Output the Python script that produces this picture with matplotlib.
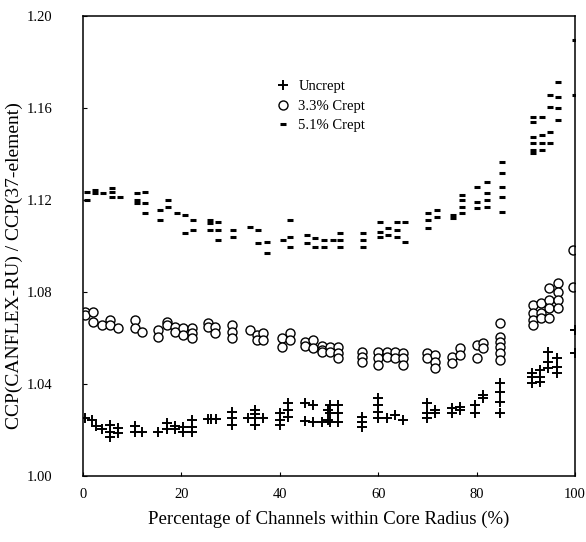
import matplotlib.pyplot as plt

plt.rcParams["font.family"] = ["Liberation Serif", "DejaVu Serif"]

# Uncrept  (x = % of channels, y = CCP ratio)
unc_x = [0.4, 1.8, 2.6, 3.9, 5.5, 5.5, 5.5, 7.1, 7.1, 10.6, 10.6, 12.0, 15.2,
         17.1, 17.1, 18.7, 18.7, 20.3, 20.3, 22.2, 22.2, 22.2,
         25.4, 26.0, 27.0, 30.3, 30.3, 30.3, 33.5, 35.0, 35.0, 35.0, 35.0, 36.6,
         40.0, 40.0, 40.0, 41.7, 41.7, 41.7, 45.1, 45.1, 46.7, 46.7, 48.6,
         49.8, 49.8, 50.2, 50.2, 50.2, 51.8, 51.8, 51.8, 56.7, 56.7, 56.7,
         60.0, 60.0, 60.0, 60.0, 61.8, 63.4, 65.0, 69.9, 69.9, 69.9, 71.5, 71.5,
         75.0, 75.0, 76.6, 76.6, 79.7, 79.7, 81.3, 81.3,
         84.8, 84.8, 84.8, 84.8, 91.3, 91.3, 91.3, 92.9, 92.9, 92.9,
         94.5, 94.5, 94.5, 96.3, 96.3, 96.3, 100.0, 100.0]
unc_y = [1.0250, 1.0243, 1.0217, 1.0204, 1.0222, 1.0191, 1.0170, 1.0209, 1.0187,
         1.0217, 1.0191, 1.0191, 1.0191, 1.0230, 1.0204, 1.0217, 1.0204,
         1.0213, 1.0191, 1.0243, 1.0213, 1.0191,
         1.0248, 1.0248, 1.0248, 1.0278, 1.0252, 1.0222, 1.0252,
         1.0287, 1.0270, 1.0252, 1.0222, 1.0252,
         1.0274, 1.0243, 1.0222, 1.0317, 1.0287, 1.0257, 1.0317, 1.0237,
         1.0309, 1.0235, 1.0235, 1.0287, 1.0245, 1.0309, 1.0274, 1.0235,
         1.0309, 1.0274, 1.0235, 1.0257, 1.0235, 1.0213,
         1.0339, 1.0309, 1.0278, 1.0252, 1.0252, 1.0265, 1.0243,
         1.0317, 1.0274, 1.0252, 1.0287, 1.0274, 1.0296, 1.0274, 1.0300, 1.0287,
         1.0309, 1.0274, 1.0352, 1.0339, 1.0404, 1.0365, 1.0322, 1.0274,
         1.0448, 1.0430, 1.0404, 1.0461, 1.0430, 1.0409,
         1.0539, 1.0496, 1.0470, 1.0513, 1.0474, 1.0448, 1.0635, 1.0535]

# 3.3% Crept
c33_x = [0.4, 0.4, 2.0, 2.0, 3.9, 5.5, 5.5, 7.1, 10.6, 10.6, 12.0, 15.2, 15.2,
         17.1, 17.1, 18.7, 18.7, 20.3, 20.3, 22.2, 22.2, 22.2, 25.4, 25.4,
         26.8, 26.8, 30.3, 30.3, 30.3, 33.9, 35.4, 35.4, 36.6, 36.6,
         40.4, 40.4, 42.1, 42.1, 45.1, 45.1, 46.7, 46.7, 48.6, 48.6, 48.6,
         50.2, 50.2, 51.8, 51.8, 51.8, 56.7, 56.7, 56.7, 60.0, 60.0, 60.0,
         61.8, 61.8, 63.4, 63.4, 65.0, 65.0, 65.0, 69.9, 69.9, 71.5, 71.5, 71.5,
         75.0, 75.0, 76.6, 76.6, 80.1, 80.1, 81.3, 81.3,
         84.8, 84.8, 84.8, 84.8, 84.8, 84.8,
         91.5, 91.5, 91.5, 91.5, 93.1, 93.1, 93.1, 94.7, 94.7, 94.7, 94.7,
         96.5, 96.5, 96.5, 96.5, 99.6, 99.6]
c33_y = [1.0713, 1.0700, 1.0713, 1.0670, 1.0657, 1.0678, 1.0657, 1.0643,
         1.0678, 1.0643, 1.0626, 1.0635, 1.0604, 1.0670, 1.0657, 1.0648, 1.0626,
         1.0643, 1.0613, 1.0643, 1.0622, 1.0600, 1.0665, 1.0648, 1.0648, 1.0622,
         1.0657, 1.0626, 1.0600, 1.0635, 1.0613, 1.0591, 1.0622, 1.0591,
         1.0600, 1.0561, 1.0622, 1.0591, 1.0583, 1.0565, 1.0591, 1.0557,
         1.0565, 1.0548, 1.0539, 1.0561, 1.0539, 1.0561, 1.0535, 1.0513,
         1.0539, 1.0517, 1.0496, 1.0539, 1.0513, 1.0483, 1.0539, 1.0517,
         1.0539, 1.0513, 1.0535, 1.0513, 1.0483, 1.0535, 1.0513,
         1.0526, 1.0496, 1.0470, 1.0517, 1.0491, 1.0557, 1.0526,
         1.0570, 1.0513, 1.0578, 1.0557,
         1.0665, 1.0604, 1.0583, 1.0561, 1.0535, 1.0504,
         1.0743, 1.0709, 1.0678, 1.0657, 1.0752, 1.0709, 1.0687,
         1.0817, 1.0765, 1.0730, 1.0687, 1.0839, 1.0800, 1.0765, 1.0730,
         1.0983, 1.0822]

# 5.1% Crept
c51_x = [0.8, 0.8, 2.4, 2.4, 4.1, 5.9, 5.9, 5.9, 7.5, 11.0, 11.0, 11.0,
         12.6, 12.6, 12.6, 15.7, 15.7, 17.3, 17.3, 19.1, 20.7, 20.7, 22.4, 22.4,
         25.8, 25.8, 25.8, 27.4, 27.4, 27.4, 30.5, 30.5, 33.9, 35.6, 35.6,
         37.4, 37.4, 40.7, 42.1, 42.1, 42.1, 45.5, 45.5, 47.2, 47.2,
         49.0, 49.0, 50.8, 52.2, 52.2, 52.2, 56.9, 56.9, 56.9,
         60.4, 60.4, 60.4, 62.0, 62.0, 63.8, 63.8, 63.8, 65.4, 65.4,
         70.1, 70.1, 70.1, 72.0, 72.0, 75.2, 75.2, 77.0, 77.0, 77.0, 77.0,
         80.1, 80.1, 80.1, 82.1, 82.1, 82.1, 82.1,
         85.2, 85.2, 85.2, 85.2, 85.2,
         91.5, 91.5, 91.5, 91.5, 91.5, 91.5, 93.3, 93.3, 93.3, 93.3,
         94.9, 94.9, 94.9, 94.9, 96.5, 96.5, 96.5, 96.5, 100.0, 100.0]
c51_y = [1.1235, 1.1200, 1.1243, 1.1230, 1.1230, 1.1252, 1.1235, 1.1213, 1.1213,
         1.1230, 1.1200, 1.1187, 1.1235, 1.1187, 1.1143, 1.1157, 1.1113,
         1.1200, 1.1170, 1.1143, 1.1135, 1.1057, 1.1113, 1.1070,
         1.1113, 1.1100, 1.1070, 1.1104, 1.1070, 1.1026, 1.1070, 1.1039,
         1.1083, 1.1070, 1.1013, 1.1017, 1.0970, 1.1026, 1.1113, 1.1039, 1.0996,
         1.1048, 1.1013, 1.1035, 1.0996, 1.1026, 1.0996, 1.1026,
         1.1057, 1.1026, 1.0996, 1.1057, 1.1026, 1.0996,
         1.1104, 1.1061, 1.1039, 1.1078, 1.1048, 1.1104, 1.1070, 1.1039,
         1.1104, 1.1017, 1.1143, 1.1113, 1.1078, 1.1157, 1.1126, 1.1135, 1.1122,
         1.1222, 1.1200, 1.1170, 1.1143, 1.1257, 1.1191, 1.1165,
         1.1278, 1.1230, 1.1200, 1.1170,
         1.1365, 1.1317, 1.1257, 1.1213, 1.1148,
         1.1561, 1.1539, 1.1474, 1.1448, 1.1417, 1.1404,
         1.1561, 1.1483, 1.1448, 1.1417, 1.1657, 1.1604, 1.1496, 1.1448,
         1.1713, 1.1648, 1.1600, 1.1548, 1.1896, 1.1657]

fig = plt.figure(figsize=(5.86, 5.42), dpi=100)
ax = fig.add_axes([0.1416, 0.1218, 0.8396, 0.8487])

ax.plot(unc_x, unc_y, linestyle="none", marker="+", markersize=7,
        markeredgewidth=1.4, color="black", label="Uncrept")
ax.plot(c33_x, c33_y, linestyle="none", marker="o", markersize=6.5,
        markeredgewidth=1.0, markerfacecolor="white", markeredgecolor="black",
        label="3.3% Crept")
ax.plot(c51_x, c51_y, linestyle="none", marker="_", markersize=4,
        markeredgewidth=2.2, color="black", label="5.1% Crept")

ax.set_xlim(0, 100)
ax.set_ylim(1.00, 1.20)
ax.set_xticks([0, 20, 40, 60, 80, 100])
ax.set_yticks([1.00, 1.04, 1.08, 1.12, 1.16, 1.20])
ax.set_yticklabels(["1.00", "1.04", "1.08", "1.12", "1.16", "1.20"])
ax.tick_params(direction="in", length=3, width=0.8, labelsize=10.5)
ax.tick_params(axis="y", pad=22)
ax.tick_params(axis="x", pad=9)
for s in ax.spines.values():
    s.set_linewidth(1.1)

ax.set_xlabel("Percentage of Channels within Core Radius (%)", fontsize=13.5)
ax.set_ylabel("CCP(CANFLEX-RU) / CCP(37-element)", fontsize=14)
ax.yaxis.set_label_coords(-0.122, 0.457)
ax.xaxis.set_label_coords(0.5, -0.073)

ax.legend(loc="upper left", bbox_to_anchor=(0.38, 0.873), frameon=False,
          fontsize=10.5, handlelength=1.0, handletextpad=0.55, labelspacing=0.42,
          borderaxespad=0)

fig.savefig("out.png", dpi=100)
